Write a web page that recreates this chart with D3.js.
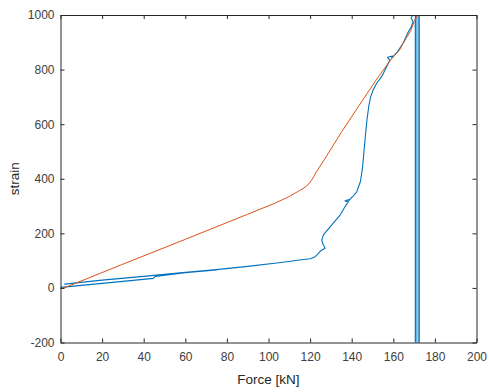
<!DOCTYPE html>
<html>
<head>
<meta charset="utf-8">
<script src="https://cdn.jsdelivr.net/npm/d3@7"></script>
<style>
  html, body { margin: 0; padding: 0; background: #fff; }
  svg text { font-family: "Liberation Sans", Arial, Helvetica, sans-serif; }
</style>
</head>
<body>
<svg id="chart" width="489" height="392"></svg>
<script>
// Measured strain (blue) and reference curve (orange) against applied force
const measuredForce  = [0, 15, 30, 44.6, 45.5, 60, 75, 60, 40, 20, 2, 20, 40, 60, 75, 90, 105, 115, 120, 122, 123.2, 125, 127.2, 126.2, 125.6, 126.4, 129.6, 134.4, 137, 138.4, 136.8, 139.2, 138.6, 140.5, 142.4, 144.2, 145.2, 145.9, 146.6, 147.4, 148.2, 149.1, 150.3, 152, 154.4, 156.8, 158.4, 157.2, 159.6, 159.2, 162, 165, 167, 168.5, 169.5, 168.5, 169.5, 170.6];
const measuredStrain = [2, 13, 24, 35, 42, 56, 66, 57, 42, 28, 14, 29, 43, 57, 67, 79, 92, 102, 107, 112, 120, 135, 145, 160, 175, 194, 224, 267, 300, 316, 319, 325, 320, 335, 352, 390, 440, 500, 560, 620, 665, 700, 725, 750, 774, 810, 835, 845, 850, 842, 865, 900, 935, 955, 975, 990, 1000, 1010];

// Saturated readings at the end of the test (off the strain range)
const saturatedForce  = [170.6, 170.6, 171.2, 171.2, 171.8, 171.8, 172.4, 172.4];
const saturatedStrain = [1010, 20000, 20000, -20000, -20000, 20000, 20000, -20000];

const referenceForce  = [1, 30, 60, 90, 103, 110, 115, 117, 119, 121, 123, 127, 135, 145.6, 152, 159, 163, 165, 167, 168.5, 170, 171, 172];
const referenceStrain = [-2, 87, 178, 270, 310, 335, 357, 366, 378, 398, 425, 472, 570, 692, 765, 838, 872, 900, 925, 945, 975, 990, 1010];

const xTicks = [0, 20, 40, 60, 80, 100, 120, 140, 160, 180, 200];
const yTicks = [-200, 0, 200, 400, 600, 800, 1000];

const svg = d3.select("#chart");
const m = { left: 60.5, right: 476.5, top: 15, bottom: 342.5 };

const x = d3.scaleLinear().domain([0, 200]).range([m.left, m.right]);
const y = d3.scaleLinear().domain([-200, 1000]).range([m.bottom, m.top]);

const axisColor = "#262626";
const textColor = "#404040";
const blue = "#0072BD";
const orange = "#D95319";

svg.append("defs").append("clipPath").attr("id", "plot-clip")
  .append("rect")
  .attr("x", m.left).attr("y", m.top)
  .attr("width", m.right - m.left).attr("height", m.bottom - m.top);

const plot = svg.append("g").attr("clip-path", "url(#plot-clip)");

const zip = (xs, ys) => xs.map((v, i) => [v, ys[i]]);
const line = d3.line().x(d => x(d[0])).y(d => y(d[1]));

// saturated band: outer edges solid, inner traces lighter
const sat = zip(saturatedForce, saturatedStrain);
plot.append("path")
  .datum(sat.slice(1))
  .attr("d", line)
  .attr("fill", "none")
  .attr("stroke", "#5fb0de")
  .attr("stroke-width", 1);
plot.selectAll("path.edge")
  .data([saturatedForce[0], saturatedForce[saturatedForce.length - 1]])
  .join("path")
  .attr("class", "edge")
  .attr("d", f => line([[f, -20000], [f, 20000]]))
  .attr("fill", "none")
  .attr("stroke", blue)
  .attr("stroke-width", 1.2);

plot.append("path")
  .datum(zip(measuredForce, measuredStrain).concat([sat[0]]))
  .attr("d", line)
  .attr("fill", "none")
  .attr("stroke", blue)
  .attr("stroke-width", 1.1)
  .attr("stroke-linejoin", "round");

plot.append("path")
  .datum(zip(referenceForce, referenceStrain))
  .attr("d", line)
  .attr("fill", "none")
  .attr("stroke", orange)
  .attr("stroke-width", 1)
  .attr("stroke-linejoin", "round");

// axes box with inward ticks on all four sides
const fmt = d => String(d);
const styleAxis = g => {
  g.select(".domain").attr("stroke", axisColor).attr("stroke-width", 1);
  g.selectAll(".tick line").attr("stroke", axisColor);
  g.selectAll(".tick text").attr("fill", textColor).attr("font-size", 12);
};

svg.append("g").attr("transform", `translate(0,${m.bottom})`)
  .call(d3.axisBottom(x).tickValues(xTicks).tickFormat(fmt).tickSizeInner(-4).tickSizeOuter(0).tickPadding(10))
  .call(styleAxis);
svg.append("g").attr("transform", `translate(0,${m.top})`)
  .call(d3.axisTop(x).tickValues(xTicks).tickFormat("").tickSizeInner(-4).tickSizeOuter(0))
  .call(styleAxis);
svg.append("g").attr("transform", `translate(${m.left},0)`)
  .call(d3.axisLeft(y).tickValues(yTicks).tickFormat(fmt).tickSizeInner(-4).tickSizeOuter(0).tickPadding(6))
  .call(styleAxis);
svg.append("g").attr("transform", `translate(${m.right},0)`)
  .call(d3.axisRight(y).tickValues(yTicks).tickFormat("").tickSizeInner(-4).tickSizeOuter(0))
  .call(styleAxis);

svg.append("text")
  .attr("x", (m.left + m.right) / 2)
  .attr("y", 384)
  .attr("text-anchor", "middle")
  .attr("font-size", 13.5)
  .attr("fill", axisColor)
  .text("Force [kN]");

svg.append("text")
  .attr("transform", `translate(19,${(m.top + m.bottom) / 2}) rotate(-90)`)
  .attr("text-anchor", "middle")
  .attr("font-size", 13.5)
  .attr("fill", axisColor)
  .text("strain");
</script>
</body>
</html>
